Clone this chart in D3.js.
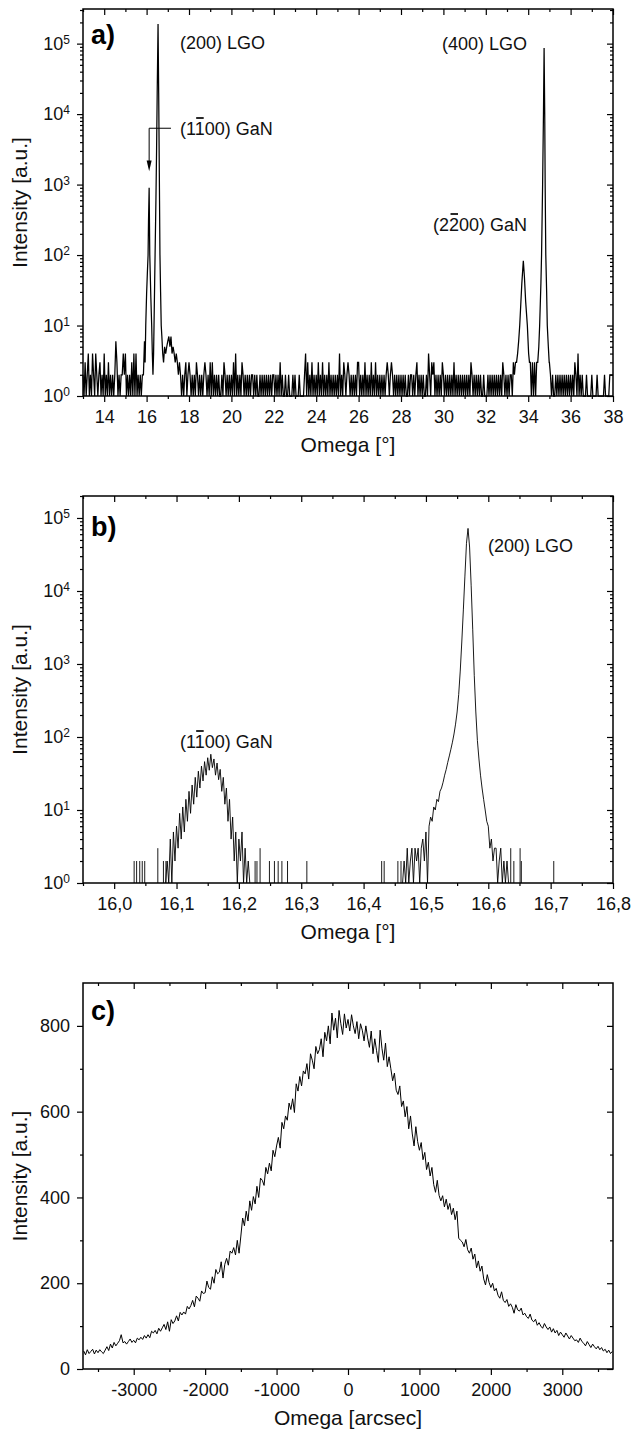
<!DOCTYPE html>
<html>
<head>
<meta charset="utf-8">
<script src="https://cdn.jsdelivr.net/npm/d3@7"></script>
<style>
body { margin: 0; background: #fff; }
svg { display: block; font-family: "Liberation Sans", Arial, Helvetica, sans-serif; }
.axis .tick text { font-size: 18px; fill: #111; font-family: "Liberation Sans", Arial, sans-serif; }
.axis .tick line { stroke: #000; stroke-width: 1.2; }
.title { font-size: 21px; fill: #111; }
.note { font-size: 18px; fill: #111; }
.letter { font-size: 27px; font-weight: bold; fill: #000; }
</style>
</head>
<body>
<div class="chart"></div>
<script>
// Three XRD scans: a) wide omega scan, b) zoom around 16 deg, c) rocking curve

// ---- data ----
// panel a: background counts every 0.05 deg from 13 to 38 (one digit per point)
var aStart = 13, aStep = 0.05;
var aNoise = [
  "2131241214", "2142123121", "4121312121", "2631212242", "4121213141",
  "4121212262", "1111111111", "1111113545", "6757454343", "2321212312",
  "3212121321", "2121232121", "3131212121", "1213212121", "2131412121",
  "3212121212", "2121211212", "1212121212", "2121213121", "1211211121",
  "2111211112", "4131213121", "2131213121", "2131212121", "2141213212",
  "3212121213", "3121213121", "2131213121", "2121212321", "2321212121",
  "2121211212", "2121231212", "1211214213", "2312121213", "2121212121",
  "3121212121", "2121213212", "1212121121", "1121212121", "2121213212",
  "1212213232", "1111111111", "1131313131", "1111111111", "3212112121",
  "2121212121", "2121321412", "1211121111", "2111121111", "1121111222",
  "2"
].join("");

// panel a peaks [omega, counts]
var aPeakLow = [[15.93,3],[15.96,10],[16.0,28],[16.04,60],[16.07,100],[16.09,300],[16.12,900],
  [16.15,100],[16.2,25],[16.24,10],[16.27,4],[16.3,2],[16.33,4],[16.35,10],[16.38,40],[16.4,100],
  [16.44,600],[16.47,3000],[16.5,20000],[16.54,190000],[16.57,20000],[16.6,1500],[16.63,100],
  [16.66,30],[16.69,10],[16.72,7],[16.76,4]];
var aPeakGaN = [[33.45,3],[33.5,4],[33.55,6],[33.6,10],[33.65,20],[33.7,40],[33.77,83],[33.82,50],
  [33.88,22],[33.96,10],[34.02,4],[34.06,3]];
var aPeakLGO = [[34.45,3],[34.5,5],[34.54,10],[34.6,40],[34.63,100],[34.68,1000],[34.72,10000],
  [34.75,87000],[34.78,10000],[34.8,1000],[34.83,100],[34.87,30],[34.9,10],[34.95,5],[34.99,3]];

// panel b: GaN peak, counts every 0.0025 deg
var bGanStart = 16.0825, bStep = 0.0025;
var bGan = [1,2,1,4,1,5,2,6,3,9,4,11,5,14,7,18,9,22,12,28,15,34,20,40,25,46,30,52,35,58,
  38,50,30,44,26,36,18,28,12,20,7,14,4,8,2,5,1,4,2,5,1,3,1,2,1];
// panel b: LGO peak, counts every 0.0025 deg
var bLgoStart = 16.4625;
var bLgo = [1,2,1,3,1,2,3,1,3,2,3,1,3,4,2,5,1,6,8,7,11,10,14,13,18,20,24,30,36,45,55,
  68,85,110,150,220,380,800,2000,5500,16000,45000,72000,40000,12000,3000,700,220,90,50,30,
  20,14,10,7,6,3,4,2,3,3,1,2,3,1,2,1,2,1];
// panel b: isolated single counts away from the peaks
var bSpikeOmega = [16.032,16.036,16.041,16.045,16.049,16.07,16.079,16.083,16.226,16.229,16.234,
  16.249,16.257,16.263,16.269,16.278,16.309,16.429,16.433,16.455,16.46,16.636,16.641,16.651,16.653,16.705];
var bSpikeCounts = [2,2,2,2,2,3,2,2,2,2,3,2,2,2,2,2,2,2,2,2,2,3,2,3,2,2];

// panel c: rocking curve, counts every 25 arcsec from -3700 to 3700
var cStart = -3700, cStep = 25;
var cCounts = [
  42,33,45,36, 41,46,35,44, 38,45,40,36, 44,52,43,58, 49,62,54,60, 66,80,61,64, 58,64,70,62,
  67,61,72,68, 74,69,78,72, 80,73,88,84, 90,82,95,88, 96,104,92,110, 88,115,106,112,
  124,112,132,126, 133,128,146,140, 148,160,145,170, 165,158,182,176, 178,205,190,186,
  215,200,232,222, 226,250,212,244, 258,242,275,270, 283,266,300,270, 310,352,334,368,
  345,392,370,402, 385,426,400,445, 440,428,470,455, 480,462,510,495, 520,540,515,575,
  560,590,580,620, 605,630,598,665, 648,682,660,695, 688,712,676,735, 720,700,752,735,
  745,770,728,785, 765,800,758,830, 790,818,772,836, 805,780,828,795, 815,788,826,800,
  782,810,770,805, 790,765,800,772, 750,788,735,770, 742,715,790,748, 720,760,705,728,
  700,672,690,650, 640,660,612,625, 588,612,560,590, 548,520,565,530, 510,528,488,505,
  465,482,450,470, 430,412,440,405, 392,404,378,396, 372,386,360,375, 348,368,305,300,
  296,285,302,278, 270,282,256,268, 236,252,228,240, 210,196,220,202, 190,200,182,188,
  172,165,180,160, 155,162,146,152, 144,130,150,138, 135,142,126,130, 122,118,128,114,
  110,116,102,108, 100,95,106,98, 92,98,86,94, 84,90,78,86, 80,74,84,77,
  70,78,72,66, 68,62,72,64, 60,54,64,57, 50,58,52,47, 53,45,50,42, 46,38,44,36, 41
];

// tick values
var aXTicks = [14, 16, 18, 20, 22, 24, 26, 28, 30, 32, 34, 36, 38];
var aXMinor = [13, 15, 17, 19, 21, 23, 25, 27, 29, 31, 33, 35, 37];
var bXTicks = [16.0, 16.1, 16.2, 16.3, 16.4, 16.5, 16.6, 16.7, 16.8];
var bXMinor = [15.95, 16.05, 16.15, 16.25, 16.35, 16.45, 16.55, 16.65, 16.75];
var cXTicks = [-3000, -2000, -1000, 0, 1000, 2000, 3000];
var cXMinor = [-3500, -2500, -1500, -500, 500, 1500, 2500, 3500];
var logTicks = [1, 10, 100, 1000, 10000, 100000];
var cYTicks = [0, 200, 400, 600, 800];
var cYMinor = [100, 300, 500, 700];

// ---- layout ----
var svgWidth = 632, svgHeight = 1431;
var plotLeft = 83, plotWidth = 530;
var panelTop = [9, 496, 983];
var panelHeight = [387, 387, 386];

var svg = d3.select(".chart").append("svg")
  .attr("width", svgWidth)
  .attr("height", svgHeight);

function logMinor(max) {
  var out = [];
  logTicks.forEach(function(t) {
    for (var m = 2; m <= 9; m++) if (t * m <= max) out.push(t * m);
  });
  return out;
}

function noText() { return ""; }

// frame + four axes; bottom/left ticks outside, top/right ticks inside
function drawAxes(g, x, y, h, o) {
  g.append("g").attr("class", "axis").attr("transform", "translate(0," + h + ")")
    .call(d3.axisBottom(x).tickValues(o.xTicks).tickSize(6).tickSizeOuter(0).tickPadding(8).tickFormat(o.xFormat));
  g.append("g").attr("class", "axis").attr("transform", "translate(0," + h + ")")
    .call(d3.axisBottom(x).tickValues(o.xMinor).tickSize(3).tickSizeOuter(0).tickFormat(noText));
  g.append("g").attr("class", "axis")
    .call(d3.axisTop(x).tickValues(o.xTicks).tickSize(-6).tickSizeOuter(0).tickFormat(noText));
  g.append("g").attr("class", "axis")
    .call(d3.axisTop(x).tickValues(o.xMinor).tickSize(-3).tickSizeOuter(0).tickFormat(noText));

  var leftAxis = g.append("g").attr("class", "axis")
    .call(d3.axisLeft(y).tickValues(o.yTicks).tickSize(6).tickSizeOuter(0).tickPadding(7).tickFormat(o.yFormat));
  g.append("g").attr("class", "axis")
    .call(d3.axisLeft(y).tickValues(o.yMinor).tickSize(3).tickSizeOuter(0).tickFormat(noText));
  g.append("g").attr("class", "axis").attr("transform", "translate(" + plotWidth + ",0)")
    .call(d3.axisRight(y).tickValues(o.yTicks).tickSize(-6).tickSizeOuter(0).tickFormat(noText));
  g.append("g").attr("class", "axis").attr("transform", "translate(" + plotWidth + ",0)")
    .call(d3.axisRight(y).tickValues(o.yMinor).tickSize(-3).tickSizeOuter(0).tickFormat(noText));

  g.selectAll(".domain").remove();

  if (o.log) {
    leftAxis.selectAll(".tick text").each(function(d) {
      var t = d3.select(this).text("");
      t.append("tspan").text("10");
      t.append("tspan").attr("dy", "-0.5em").attr("font-size", "12px").text(Math.round(Math.log10(d)));
    });
  }

  g.append("rect")
    .attr("width", plotWidth).attr("height", h)
    .attr("fill", "none").attr("stroke", "#000").attr("stroke-width", 1.5);

  // axis titles
  g.append("text").attr("class", "title")
    .attr("x", plotWidth / 2).attr("y", h + 56)
    .attr("text-anchor", "middle")
    .text(o.xTitle);
  g.append("text").attr("class", "title")
    .attr("transform", "rotate(-90)")
    .attr("x", -h / 2).attr("y", 27 - plotLeft)
    .attr("text-anchor", "middle")
    .text("Intensity [a.u.]");

  g.append("text").attr("class", "letter")
    .attr("x", 8).attr("y", o.letterY)
    .text(o.letter);
}

// label with an overbar on one character, e.g. (1-100)
function barLabel(g, x, y, str, barIndex) {
  var t = g.append("text").attr("class", "note").attr("x", x).attr("y", y).text(str);
  var node = t.node();
  var x0 = x + node.getSubStringLength(0, barIndex);
  var w = node.getSubStringLength(barIndex, 1);
  g.append("line")
    .attr("x1", x0 + 1.5).attr("x2", x0 + w - 1)
    .attr("y1", y - 17).attr("y2", y - 17)
    .attr("stroke", "#111").attr("stroke-width", 1.8);
}

// ---- panel a ----
var ga = svg.append("g").attr("transform", "translate(" + plotLeft + "," + panelTop[0] + ")");
var ha = panelHeight[0];
var xa = d3.scaleLinear().domain([13, 38]).range([0, plotWidth]);
var ya = d3.scaleLog().domain([1, 3.1e5]).range([ha, 0]);

var aPeaks = [aPeakLow, aPeakGaN, aPeakLGO];
var aSeries = [];
for (var i = 0; i < aNoise.length; i++) {
  var om = aStart + i * aStep;
  var covered = aPeaks.some(function(p) { return om >= p[0][0] && om <= p[p.length - 1][0]; });
  if (!covered) aSeries.push([om, +aNoise[i]]);
}
aSeries = aSeries.concat(aPeakLow, aPeakGaN, aPeakLGO).sort(function(p, q) { return p[0] - q[0]; });

var lineA = d3.line()
  .x(function(d) { return xa(d[0]); })
  .y(function(d) { return ya(Math.max(1, d[1])); });

ga.append("path").datum(aSeries)
  .attr("d", lineA)
  .attr("fill", "none").attr("stroke", "#000").attr("stroke-width", 1.25);

drawAxes(ga, xa, ya, ha, {
  xTicks: aXTicks, xMinor: aXMinor, xFormat: function(d) { return d; },
  yTicks: logTicks, yMinor: logMinor(3.1e5), yFormat: null, log: true,
  xTitle: "Omega [°]", letter: "a)", letterY: 35
});

ga.append("text").attr("class", "note").attr("x", 97).attr("y", 40).text("(200) LGO");
ga.append("text").attr("class", "note").attr("x", 359).attr("y", 41).text("(400) LGO");
barLabel(ga, 97, 126, "(1100) GaN", 2);
barLabel(ga, 350, 222, "(2200) GaN", 2);

// arrow from the GaN label down to the (1-100) peak
var arrowX = xa(16.12);
ga.append("path")
  .attr("d", "M" + xa(17.15) + "," + ya(6300) + "H" + arrowX + "V" + ya(2100))
  .attr("fill", "none").attr("stroke", "#000").attr("stroke-width", 1);
ga.append("path")
  .attr("d", "M" + (arrowX - 2.5) + "," + ya(2200) + "L" + (arrowX + 2.5) + "," + ya(2200) + "L" + arrowX + "," + ya(1550) + "Z")
  .attr("fill", "#000");

// ---- panel b ----
var gb = svg.append("g").attr("transform", "translate(" + plotLeft + "," + panelTop[1] + ")");
var hb = panelHeight[1];
var xb = d3.scaleLinear().domain([15.95, 16.8]).range([0, plotWidth]);
var yb = d3.scaleLog().domain([1, 2e5]).range([hb, 0]);

var lineB = d3.line()
  .x(function(d) { return xb(d[0]); })
  .y(function(d) { return yb(Math.max(1, d[1])); });

[[bGanStart, bGan], [bLgoStart, bLgo]].forEach(function(pk) {
  var pts = pk[1].map(function(v, k) { return [pk[0] + k * bStep, v]; });
  gb.append("path").datum(pts)
    .attr("d", lineB)
    .attr("fill", "none").attr("stroke", "#000").attr("stroke-width", 0.9);
});

gb.selectAll("line.spike")
  .data(bSpikeOmega)
  .enter().append("line")
  .attr("class", "spike")
  .attr("x1", function(d) { return xb(d); })
  .attr("x2", function(d) { return xb(d); })
  .attr("y1", yb(1))
  .attr("y2", function(d, k) { return yb(bSpikeCounts[k]); })
  .attr("stroke", "#000").attr("stroke-width", 0.9);

drawAxes(gb, xb, yb, hb, {
  xTicks: bXTicks, xMinor: bXMinor, xFormat: function(d) { return d.toFixed(1).replace(".", ","); },
  yTicks: logTicks, yMinor: logMinor(2e5), yFormat: null, log: true,
  xTitle: "Omega [°]", letter: "b)", letterY: 40
});

gb.append("text").attr("class", "note").attr("x", 405).attr("y", 56).text("(200) LGO");
barLabel(gb, 97, 252, "(1100) GaN", 2);

// ---- panel c ----
var gc = svg.append("g").attr("transform", "translate(" + plotLeft + "," + panelTop[2] + ")");
var hc = panelHeight[2];
var xc = d3.scaleLinear().domain([-3710, 3710]).range([0, plotWidth]);
var yc = d3.scaleLinear().domain([0, 900]).range([hc, 0]);

var cSeries = cCounts.map(function(v, k) { return [cStart + k * cStep, v]; });

gc.append("path").datum(cSeries)
  .attr("d", d3.line()
    .x(function(d) { return xc(d[0]); })
    .y(function(d) { return yc(d[1]); }))
  .attr("fill", "none").attr("stroke", "#000").attr("stroke-width", 1)
  .attr("stroke-linejoin", "round");

drawAxes(gc, xc, yc, hc, {
  xTicks: cXTicks, xMinor: cXMinor, xFormat: function(d) { return d; },
  yTicks: cYTicks, yMinor: cYMinor, yFormat: function(d) { return d; }, log: false,
  xTitle: "Omega [arcsec]", letter: "c)", letterY: 37
});
</script>
</body>
</html>
